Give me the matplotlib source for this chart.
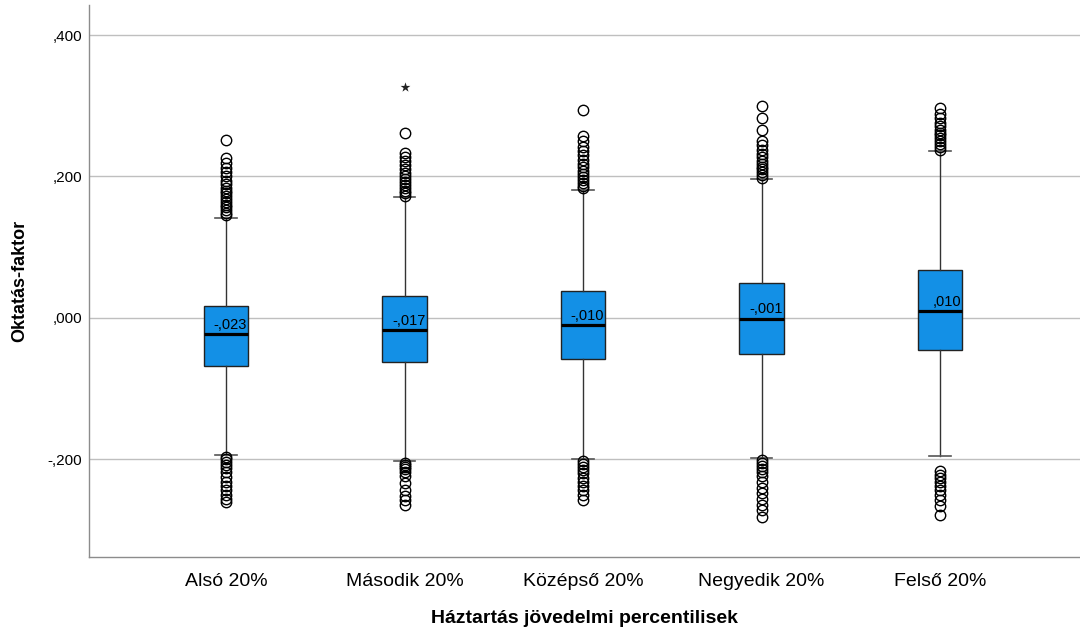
import matplotlib
matplotlib.use("Agg")
import matplotlib.pyplot as plt

# ---------------- data ----------------
groups = ["Alsó 20%", "Második 20%", "Középső 20%", "Negyedik 20%", "Felső 20%"]
medians = [-0.023, -0.017, -0.010, -0.001, 0.010]
q1 = [-0.068, -0.062, -0.058, -0.051, -0.045]
q3 = [0.017, 0.031, 0.038, 0.049, 0.068]
whis_lo = [-0.194, -0.202, -0.200, -0.198, -0.195]
whis_hi = [0.141, 0.171, 0.181, 0.196, 0.236]

out_hi = [
    [0.145, 0.149, 0.153, 0.157, 0.160, 0.164, 0.168, 0.172, 0.176, 0.180, 0.184,
     0.189, 0.194, 0.200, 0.206, 0.212, 0.219, 0.226, 0.252],
    [0.173, 0.176, 0.180, 0.184, 0.188, 0.192, 0.196, 0.200, 0.205, 0.210, 0.216,
     0.222, 0.228, 0.233, 0.262],
    [0.183, 0.187, 0.191, 0.195, 0.199, 0.203, 0.208, 0.213, 0.218, 0.224, 0.230,
     0.236, 0.242, 0.250, 0.257, 0.294],
    [0.198, 0.202, 0.206, 0.210, 0.214, 0.218, 0.222, 0.227, 0.232, 0.238, 0.244,
     0.250, 0.266, 0.283, 0.300],
    [0.238, 0.242, 0.246, 0.250, 0.254, 0.258, 0.262, 0.266, 0.271, 0.276, 0.282,
     0.288, 0.297],
]
out_lo = [
    [-0.197, -0.200, -0.204, -0.208, -0.212, -0.218, -0.225, -0.232, -0.238,
     -0.244, -0.250, -0.256, -0.260],
    [-0.205, -0.208, -0.211, -0.214, -0.218, -0.224, -0.234, -0.244, -0.252,
     -0.258, -0.264],
    [-0.203, -0.207, -0.211, -0.215, -0.220, -0.226, -0.232, -0.238, -0.244,
     -0.251, -0.258],
    [-0.201, -0.205, -0.209, -0.213, -0.218, -0.224, -0.232, -0.240, -0.248,
     -0.256, -0.264, -0.272, -0.282],
    [-0.217, -0.222, -0.227, -0.232, -0.238, -0.244, -0.250, -0.258, -0.266,
     -0.278],
]
extreme_pos = [2]
extreme_val = [0.326]

yticks = [-0.2, 0.0, 0.2, 0.4]
ytick_labels = ["-,200", ",000", ",200", ",400"]
median_labels = ["-,023", "-,017", "-,010", "-,001", ",010"]

# ---------------- plot ----------------
plt.rcParams["font.family"] = ["Liberation Sans", "DejaVu Sans"]

fig = plt.figure(figsize=(10.8, 6.32), dpi=100)
ax = fig.add_axes([0.0824, 0.119, 0.9176, 0.873])

positions = list(range(1, len(groups) + 1))
stats = []
for i in range(len(groups)):
    stats.append({
        "med": medians[i], "q1": q1[i], "q3": q3[i],
        "whislo": whis_lo[i], "whishi": whis_hi[i],
        "fliers": out_hi[i] + out_lo[i],
    })

ax.bxp(stats, positions=positions, widths=0.25, capwidths=0.12,
       patch_artist=True, showfliers=True,
       boxprops=dict(facecolor="#1390E6", edgecolor="#222222", linewidth=1.0),
       medianprops=dict(color="black", linewidth=2.3),
       whiskerprops=dict(color="#333333", linewidth=1.0),
       capprops=dict(color="#555555", linewidth=1.2),
       flierprops=dict(marker="o", markerfacecolor="none",
                       markeredgecolor="black", markersize=7.5,
                       markeredgewidth=1.0),
       zorder=3)

# extreme value (SPSS star)
ax.scatter(extreme_pos, extreme_val, marker="*", s=55,
           color="#222222", linewidths=0, zorder=4)

for p, m, lab in zip(positions, medians, median_labels):
    ax.text(p + 0.118, m + 0.003, lab, ha="right", va="bottom",
            fontsize=10.5, color="black", zorder=5)

ax.set_xlim(0.2325, 5.784)
ax.set_ylim(-0.3378, 0.4424)
ax.set_yticks(yticks)
ax.set_yticklabels(ytick_labels, fontsize=11)
ax.set_xticks(positions)
ax.set_xticklabels(groups, fontsize=14)
ax.tick_params(axis="both", length=0)
ax.tick_params(axis="y", pad=5)
ax.tick_params(axis="x", pad=12)

ax.grid(True, axis="y", color="#bfbfbf", linewidth=1.0)
ax.set_axisbelow(True)
for s in ["top", "right"]:
    ax.spines[s].set_visible(False)
for s in ["left", "bottom"]:
    ax.spines[s].set_color("#8c8c8c")
    ax.spines[s].set_linewidth(1.0)

ax.set_xlabel("Háztartás jövedelmi percentilisek", fontsize=14,
              fontweight="bold", labelpad=14)
ax.set_ylabel("Oktatás-faktor", fontsize=13, fontweight="bold", labelpad=14)

fig.savefig("out.png", dpi=100)
